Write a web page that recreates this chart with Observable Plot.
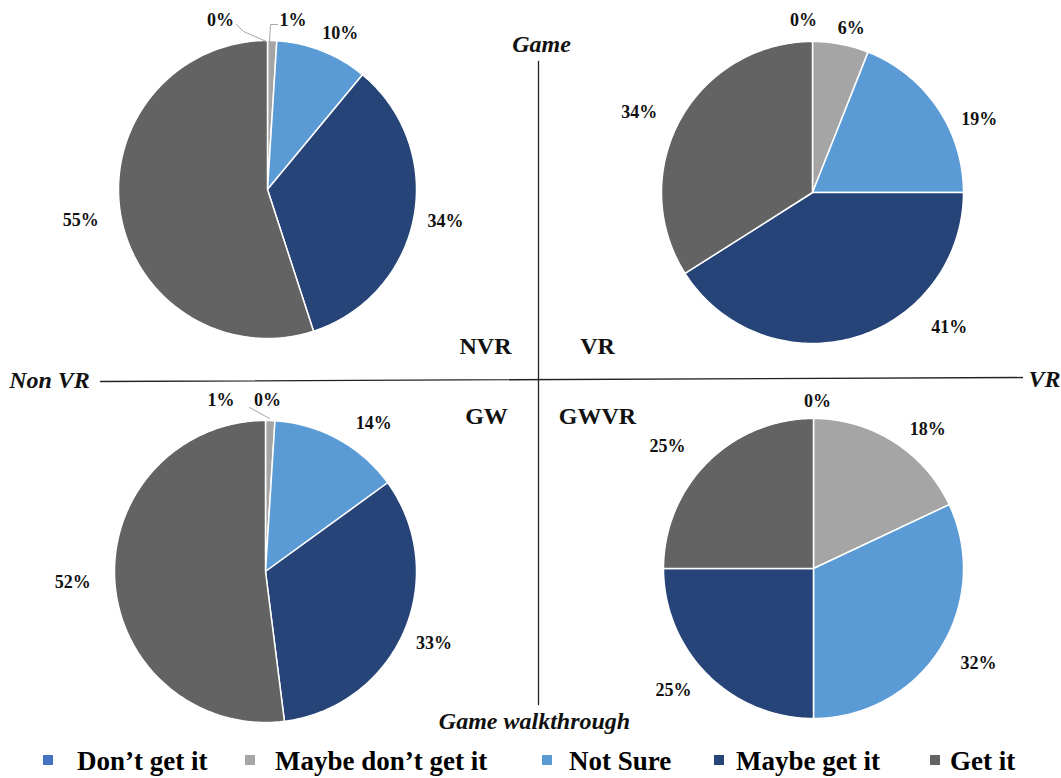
<!DOCTYPE html>
<html><head><meta charset="utf-8">
<script src="https://cdn.jsdelivr.net/npm/d3@7"></script>
<script src="https://cdn.jsdelivr.net/npm/@observablehq/plot@0.6"></script>
<style>
body{margin:0;background:#fff;overflow:hidden;font-family:'Liberation Serif','DejaVu Serif',serif;}
#legend{position:relative;width:1061px;height:38px;}
.sw{position:absolute;width:10px;height:10px;top:15px;}
.lab{position:absolute;top:8px;font-family:'Liberation Serif','DejaVu Serif',serif;font-weight:bold;font-size:27px;line-height:1;white-space:nowrap;color:#000;}
svg text{font-family:'Liberation Serif','DejaVu Serif',serif;}
</style></head><body>
<div id="chart"></div><div id="legend"></div>
<script>
// ---- data ----
const categories = ["Don\u2019t get it", "Maybe don\u2019t get it", "Not Sure", "Maybe get it", "Get it"];
const colors = ["#4472C4", "#A5A5A5", "#5B9BD5", "#264478", "#636363"];
const groups = ["NVR", "VR", "GW", "GWVR"];
const nvrValues = [0, 1, 10, 34, 55];
const vrValues = [0, 6, 19, 41, 34];
const gwValues = [0, 1, 14, 33, 52];
const gwvrValues = [0, 18, 32, 25, 25];
const groupValues = {NVR: nvrValues, VR: vrValues, GW: gwValues, GWVR: gwvrValues};
const axisLabels = {left: "Non VR", right: "VR", top: "Game", bottom: "Game walkthrough"};

// ---- layout (positions / sizes only) ----
const layout = {
  NVR:  {cx: 267, cy: 189, r: 149, qx: 485, qy: 346, nudge: [[-47, 4], [20, 4], [9, 5], [8, -1], [-16, 4]]},
  VR:   {cx: 812, cy: 192, r: 151, qx: 597, qy: 346, nudge: [[-9, 3], [6, 8], [22, 25], [88, -33], [-20, 4]]},
  GW:   {cx: 265, cy: 571, r: 151, qx: 486, qy: 416, nudge: [[2, 4], [-50, 4], [24, 5], [8, 2], [-18, 0]]},
  GWVR: {cx: 813, cy: 568, r: 150, qx: 597, qy: 416, nudge: [[4, 7], [21, 8], [18, 2], [-17, -1], [-23, 1]]}
};
const labelPad = 24;
const leaders = [
  [{x: 236, y: 24}, {x: 243, y: 31}, {x: 266, y: 41}],
  [{x: 277, y: 24}, {x: 270, y: 24}, {x: 269, y: 41}],
  [{x: 249, y: 407}, {x: 269, y: 418}]
];
const hLine = [{x: 100, y: 381}, {x: 1022, y: 377}];
const vLine = [{x: 538, y: 61}, {x: 538, y: 704}];
const axisPos = {left: [49, 380], right: [1044, 379], top: [541, 44], bottom: [534, 721]};
const legendPos = [[43, 77], [245, 275], [542, 569], [714, 736], [930, 950]];

// ---- build geometry from data ----
const slicePts = [];
const labels = [];
const pie = d3.pie().sort(null).value(d => d);
for (const g of groups) {
  const L = layout[g];
  const arcs = pie(groupValues[g]);
  arcs.forEach((a, i) => {
    const id = g + "-" + i;
    const n = Math.max(2, Math.ceil((a.endAngle - a.startAngle) / (Math.PI / 180)));
    slicePts.push({id, cat: categories[i], x: L.cx, y: L.cy});
    for (let k = 0; k <= n; k++) {
      const t = a.startAngle + (a.endAngle - a.startAngle) * k / n;
      slicePts.push({id, cat: categories[i], x: L.cx + L.r * Math.sin(t), y: L.cy - L.r * Math.cos(t)});
    }
    slicePts.push({id, cat: categories[i], x: L.cx, y: L.cy});
    const mid = (a.startAngle + a.endAngle) / 2;
    const R = L.r + labelPad;
    labels.push({
      x: L.cx + R * Math.sin(mid) + L.nudge[i][0],
      y: L.cy - R * Math.cos(mid) + L.nudge[i][1],
      text: Math.round(a.data) + "%"
    });
  });
}
const leaderPts = leaders.flatMap((l, j) => l.map(p => ({...p, z: j})));
const quad = groups.map(g => ({x: layout[g].qx, y: layout[g].qy, text: g}));
const axisText = Object.keys(axisLabels).map(k => ({x: axisPos[k][0], y: axisPos[k][1], text: axisLabels[k]}));

const font = "'Liberation Serif', 'DejaVu Serif', serif";
const chart = Plot.plot({
  width: 1061, height: 740,
  x: {domain: [0, 1061], range: [0, 1061], axis: null},
  y: {domain: [0, 740], range: [0, 740], axis: null},
  color: {domain: categories, range: colors},
  style: {background: "#fff", fontFamily: font},
  marks: [
    Plot.line(hLine, {x: "x", y: "y", stroke: "#222", strokeWidth: 1.3}),
    Plot.line(vLine, {x: "x", y: "y", stroke: "#222", strokeWidth: 1.3}),
    Plot.line(slicePts, {x: "x", y: "y", z: "id", fill: "cat", stroke: "white", strokeWidth: 1.5, strokeLinejoin: "round"}),
    Plot.line(leaderPts, {x: "x", y: "y", z: "z", stroke: "#a6a6a6", strokeWidth: 1}),
    Plot.text(labels, {x: "x", y: "y", text: "text", fontFamily: font, fontWeight: "bold", fontSize: 18, fill: "#111"}),
    Plot.text(quad, {x: "x", y: "y", text: "text", fontFamily: font, fontWeight: "bold", fontSize: 24, fill: "#111"}),
    Plot.text(axisText, {x: "x", y: "y", text: "text", fontFamily: font, fontWeight: "bold", fontStyle: "italic", fontSize: 24, fill: "#111"})
  ]
});
document.getElementById("chart").appendChild(chart);

const legend = document.getElementById("legend");
categories.forEach((c, i) => {
  const sw = document.createElement("div");
  sw.className = "sw";
  sw.style.left = legendPos[i][0] + "px";
  sw.style.background = colors[i];
  const lab = document.createElement("div");
  lab.className = "lab";
  lab.style.left = legendPos[i][1] + "px";
  lab.textContent = c;
  legend.appendChild(sw);
  legend.appendChild(lab);
});
</script>
</body></html>
